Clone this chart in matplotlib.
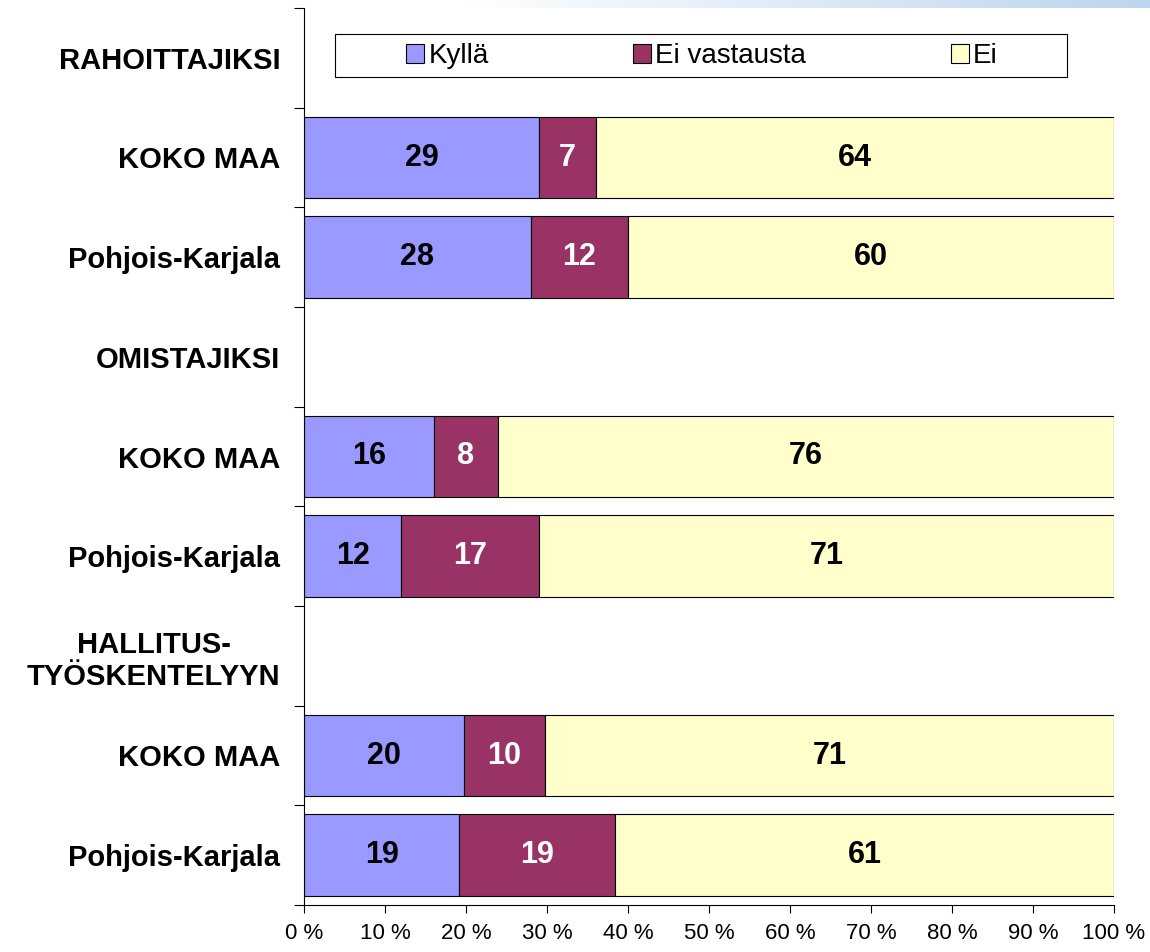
import matplotlib

matplotlib.use("Agg")

import matplotlib.pyplot as plt
import numpy as np
from matplotlib.colors import LinearSegmentedColormap
from matplotlib.patches import Patch, Rectangle

plt.rcParams.update(
    {
        "font.family": ["Liberation Sans", "DejaVu Sans"],
        "axes.linewidth": 0.8,
    }
)

# Rows from top to bottom; header rows carry no bar.
categories = [
    "RAHOITTAJIKSI",
    "KOKO MAA",
    "Pohjois-Karjala",
    "OMISTAJIKSI",
    "KOKO MAA",
    "Pohjois-Karjala",
    "HALLITUS-\nTYÖSKENTELYYN",
    "KOKO MAA",
    "Pohjois-Karjala",
]
kylla = [np.nan, 29, 28, np.nan, 16, 12, np.nan, 20, 19]
ei_vastausta = [np.nan, 7, 12, np.nan, 8, 17, np.nan, 10, 19]
ei = [np.nan, 64, 60, np.nan, 76, 71, np.nan, 71, 61]
series_names = ["Kyllä", "Ei vastausta", "Ei"]
series_colors = ["#9999FF", "#993366", "#FFFFCC"]
label_colors = ["black", "white", "black"]
x_ticks = list(range(0, 101, 10))

W, H = 1150, 952
fig = plt.figure(figsize=(W / 100, H / 100), dpi=100)

# light gradient band along the top edge
gax = fig.add_axes([460 / W, 1 - 8 / H, 690 / W, 8 / H])
band = LinearSegmentedColormap.from_list("band", ["#FFFFFF", "#BCD5EE"])
gax.imshow(np.linspace(0, 1, 256)[None, :], aspect="auto", cmap=band)
gax.axis("off")

ax = fig.add_axes([304 / W, 1 - 905 / H, 810 / W, 897 / H])

rows = np.arange(len(categories))
values = np.array([kylla, ei_vastausta, ei], dtype=float)
with np.errstate(invalid="ignore", divide="ignore"):
    shares = values / np.nansum(values, axis=0) * 100

has_bar = ~np.isnan(values[0])
left = np.zeros(len(categories))
for vals, share, name, color, tcolor in zip(
    values, shares, series_names, series_colors, label_colors
):
    ax.barh(
        rows[has_bar],
        share[has_bar],
        left=left[has_bar],
        height=0.82,
        color=color,
        edgecolor="black",
        linewidth=0.8,
        label=name,
    )
    for r in rows[has_bar]:
        ax.text(
            left[r] + share[r] / 2,
            r,
            f"{vals[r]:.0f}",
            ha="center",
            va="center",
            fontsize=22,
            fontweight="bold",
            color=tcolor,
        )
    left[has_bar] += share[has_bar]

ax.set_xlim(0, 100)
ax.set_ylim(len(categories) - 0.5, -0.5)
ax.set_yticks(rows, categories, fontsize=21, fontweight="bold")
for lbl in ax.get_yticklabels():
    lbl.set_multialignment("center")
ax.set_yticks(np.arange(-0.5, len(categories), 1), minor=True)
ax.tick_params(axis="y", which="major", length=0, pad=17)
ax.tick_params(axis="y", which="minor", length=7, width=0.8)

ax.set_xticks(x_ticks, [f"{t} %" for t in x_ticks])
ax.tick_params(axis="x", length=6, width=0.8, pad=7, labelsize=16)
ax.spines[["top", "right"]].set_visible(False)

handles = [Patch(facecolor=c, edgecolor="black", linewidth=0.8) for c in series_colors]
fig.legend(
    handles,
    series_names,
    loc="center",
    bbox_to_anchor=(702 / W, 1 - 56 / H),
    ncol=3,
    frameon=False,
    fontsize=20,
    handlelength=0.65,
    handleheight=0.65,
    handletextpad=0.15,
    columnspacing=5.2,
)
fig.add_artist(
    Rectangle(
        (335 / W, 1 - 77 / H),
        732 / W,
        43 / H,
        transform=fig.transFigure,
        fill=False,
        edgecolor="black",
        linewidth=0.8,
    )
)

fig.savefig("out.png", dpi=100)
plt.close(fig)
